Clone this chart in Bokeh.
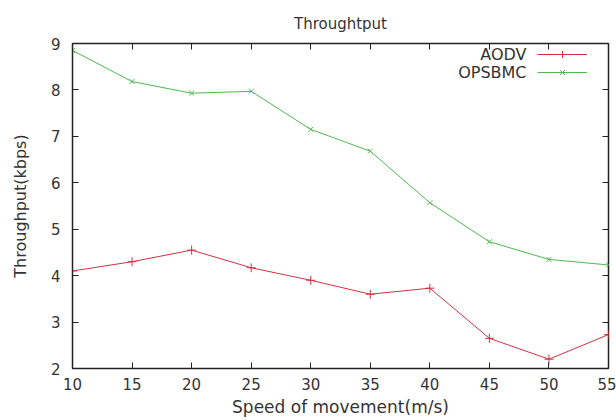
from bokeh.plotting import figure
from bokeh.models import Range1d, LinearAxis, FixedTicker, Legend, LegendItem, Label
from bokeh.embed import file_html
from bokeh.resources import INLINE

speed = [10, 15, 20, 25, 30, 35, 40, 45, 50, 55]
aodv = [4.10, 4.30, 4.55, 4.17, 3.90, 3.60, 3.73, 2.65, 2.20, 2.73]
opsbmc = [8.85, 8.18, 7.93, 7.97, 7.15, 6.68, 5.57, 4.73, 4.35, 4.23]
x_ticks = [10, 15, 20, 25, 30, 35, 40, 45, 50, 55]
y_ticks = [2, 3, 4, 5, 6, 7, 8, 9]
series_names = ["AODV", "OPSBMC"]

FONT = "DejaVu Sans"
RED = "#cf3341"
GREEN = "#4fb84f"
TXT = "#333333"

W, H = 616, 420
L, R, T, B = 72, 8, 43, 52
FW, FH = W - L - R, H - T - B

p = figure(width=W, height=H, output_backend="svg", toolbar_location=None,
           x_range=Range1d(10, 55), y_range=Range1d(2, 9),
           min_border_left=L, min_border_right=R, min_border_top=T, min_border_bottom=B,
           title="Throughtput")
p.title.align = "center"
p.title.text_font = FONT
p.title.text_font_size = "15px"
p.title.text_font_style = "normal"
p.title.text_color = TXT
p.title.offset = 0
p.title.standoff = 22

p.grid.visible = False
p.outline_line_color = "#222222"
p.outline_line_width = 1.5

for ax in [p.xaxis[0], p.yaxis[0]]:
    ax.major_label_text_font = FONT
    ax.major_label_text_font_size = "15px"
    ax.major_label_text_color = TXT
    ax.axis_label_text_font = FONT
    ax.axis_label_text_font_style = "normal"
    ax.axis_label_text_color = TXT
    ax.major_tick_in = 6
    ax.major_tick_out = 0
    ax.minor_tick_line_color = None
    ax.axis_line_color = "#222222"
    ax.major_tick_line_color = "#222222"

p.xaxis[0].ticker = FixedTicker(ticks=x_ticks)
p.yaxis[0].ticker = FixedTicker(ticks=y_ticks)
p.xaxis[0].axis_label = "Speed of movement(m/s)"
p.yaxis[0].axis_label = "Throughput(kbps)"
p.xaxis[0].axis_label_text_font_size = "17px"
p.yaxis[0].axis_label_text_font_size = "16px"
p.xaxis[0].major_label_standoff = 9
p.yaxis[0].major_label_standoff = 12
p.xaxis[0].axis_label_standoff = 4
p.yaxis[0].axis_label_standoff = 18

top = LinearAxis(ticker=FixedTicker(ticks=x_ticks), major_label_text_font_size="0px",
                 major_tick_in=6, major_tick_out=0, minor_tick_line_color=None,
                 axis_line_color=None, major_tick_line_color="#222222")
right = LinearAxis(ticker=FixedTicker(ticks=y_ticks), major_label_text_font_size="0px",
                   major_tick_in=6, major_tick_out=0, minor_tick_line_color=None,
                   axis_line_color=None, major_tick_line_color="#222222")
p.add_layout(top, "above")
p.add_layout(right, "right")

l1 = p.line(speed, aodv, line_color=RED, line_width=1)
m1 = p.scatter(speed, aodv, marker="cross", size=9, line_color=RED, line_width=1)
l2 = p.line(speed, opsbmc, line_color=GREEN, line_width=1)
m2 = p.scatter(speed, opsbmc, marker="x", size=7, line_color=GREEN, line_width=1)

GLW, ROWH = 50, 18
leg_x = FW - 21 - GLW
leg_top = FH - 2
legend = Legend(items=[LegendItem(label=series_names[0], renderers=[l1, m1]),
                       LegendItem(label=series_names[1], renderers=[l2, m2])],
                location=(leg_x, leg_top - 2 * ROWH))
legend.background_fill_alpha = 0
legend.border_line_color = None
legend.label_text_font_size = "2px"
legend.label_text_alpha = 0
legend.label_width = 0
legend.label_standoff = 0
legend.glyph_width = GLW
legend.glyph_height = ROWH
legend.label_height = ROWH
legend.spacing = 0
legend.padding = 0
legend.margin = 0
p.add_layout(legend)

for i, name in enumerate(series_names):
    p.add_layout(Label(x=leg_x - 11, y=leg_top - ROWH / 2 - i * ROWH,
                       x_units="screen", y_units="screen", text=name,
                       text_align="right", text_baseline="middle",
                       text_font=FONT, text_font_size="16px", text_color=TXT))

open("out.html", "w").write(file_html(p, INLINE))
